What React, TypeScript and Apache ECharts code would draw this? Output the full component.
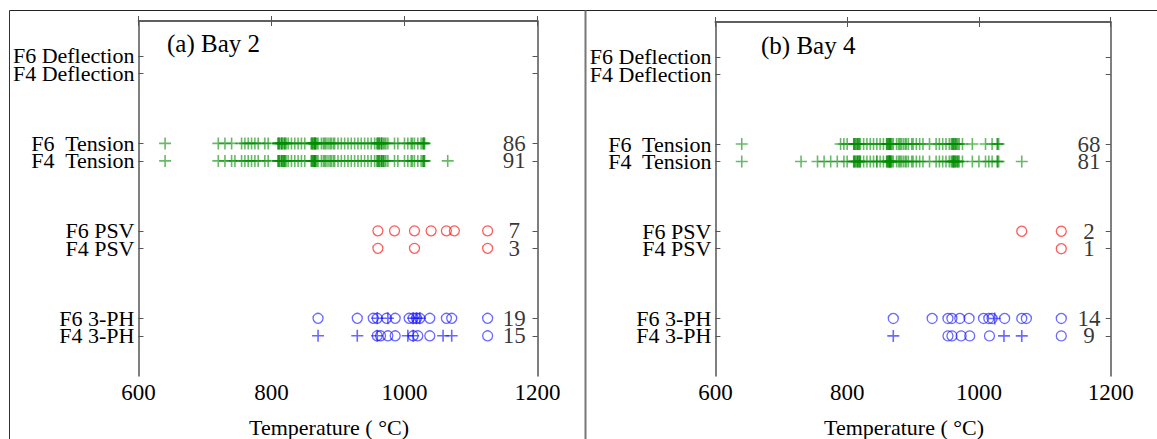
import React, { useEffect, useRef } from 'react';
import * as echarts from 'echarts';

// ---- categories / ticks ----
const rowNames = ['F6 Deflection', 'F4 Deflection', 'F6  Tension', 'F4  Tension', 'F6 PSV', 'F4 PSV', 'F6 3-PH', 'F4 3-PH'];
const rowSlots = [2, 3, 7, 8, 12, 13, 17, 18];
const xTicks = [600, 800, 1000, 1200];
const panelTitles = ['(a) Bay 2', '(b) Bay 4'];
const xName = 'Temperature ( \u00B0C)';

// ---- Bay 2 ----
const bay2F6Tension = [640,
  720, 730, 740,
  755, 760, 765, 770, 775, 780, 790, 795,
  810, 810, 812, 812, 815, 815, 816, 818, 820, 820, 822, 825,
  830, 835, 840, 845, 850,
  860, 860, 862, 862, 864, 865, 865, 866, 866, 868, 870,
  875, 878, 880, 882, 885, 888, 890, 893, 895, 900,
  905, 910, 915, 920, 925, 930, 935, 940, 945, 950,
  955, 958, 960, 960, 962, 962, 965, 965, 966, 968, 970, 972, 975,
  985, 990, 1000, 1005, 1010, 1012, 1015, 1020, 1025, 1028, 1028, 1030, 1030];
const bay2F4Tension = [640,
  720, 730, 740, 745,
  755, 760, 765, 770, 775, 780, 790, 795,
  810, 810, 812, 812, 815, 815, 816, 818, 818, 820, 820, 822, 825,
  830, 835, 840, 845, 850,
  860, 860, 862, 862, 864, 864, 865, 865, 866, 866, 868, 870,
  875, 878, 880, 882, 885, 888, 890, 893, 895, 900,
  905, 910, 915, 920, 925, 930, 935, 940, 945, 950,
  955, 958, 960, 960, 962, 962, 965, 965, 966, 968, 968, 970, 972, 975,
  985, 990, 1000, 1005, 1010, 1012, 1015, 1020, 1025, 1028, 1028, 1030, 1030,
  1065];
const bay2F6PSV = [960, 985, 1015, 1040, 1063, 1075, 1125];
const bay2F4PSV = [960, 1015, 1125];
const bay2F63PHCircle = [870, 929, 953, 959, 973, 986, 1007, 1013, 1018, 1023, 1038, 1063, 1071, 1125];
const bay2F63PHPlus = [959, 975, 1013, 1018, 1023];
const bay2F43PHCircle = [959, 964, 975, 986, 1013, 1020, 1038, 1125];
const bay2F43PHPlus = [870, 929, 959, 1005, 1013, 1058, 1071];

// ---- Bay 4 ----
const bay4F6Tension = [640,
  790, 795, 800,
  810, 810, 812, 812, 815, 815, 816, 818, 818, 820,
  825, 830, 835, 840, 845, 850, 855,
  860, 860, 862, 862, 864, 864, 865, 866, 866, 868, 870,
  875, 878, 880, 882, 885, 888, 890, 893, 898, 900,
  905, 910, 915, 925, 935, 940, 945, 950, 955,
  958, 960, 960, 962, 962, 964, 965, 966, 968, 970,
  975, 990, 1010, 1020, 1028, 1028, 1030];
const bay4F4Tension = [640, 730, 755, 765, 775, 785, 795, 800,
  810, 810, 812, 812, 815, 815, 816, 818, 818, 820, 820,
  825, 830, 835, 840, 845, 845, 850, 855,
  860, 860, 862, 862, 864, 864, 864, 865, 866, 866, 866, 868, 870,
  875, 878, 880, 882, 885, 888, 890, 893, 898, 900,
  905, 910, 915, 925, 935, 940, 945, 950, 955,
  958, 960, 960, 962, 962, 962, 964, 965, 966, 968, 968, 970,
  975, 990, 1000, 1010, 1015, 1020, 1028, 1028, 1030,
  1065];
const bay4F6PSV = [1065, 1125];
const bay4F4PSV = [1125];
const bay4F63PHCircle = [870, 929, 953, 959, 971, 985, 1007, 1015, 1020, 1039, 1065, 1072, 1125];
const bay4F63PHPlus = [1024];
const bay4F43PHCircle = [953, 959, 973, 986, 1016, 1125];
const bay4F43PHPlus = [870, 1038, 1065];

const FONT = "'Liberation Serif', 'Times New Roman', serif";
const GREEN = 'rgba(0,140,0,0.75)';
const RED = 'rgba(255,0,0,0.8)';
const BLUE = 'rgba(20,20,255,0.8)';
const AXIS = '#555';
const PLUS = 'path://M6 0L6 12M0 6L12 6';

type Panel = {
  grid: any;
  f6Tension: number[]; f4Tension: number[];
  f6PSV: number[]; f4PSV: number[];
  f63c: number[]; f63p: number[]; f43c: number[]; f43p: number[];
  countX: number;
};

const panels: Panel[] = [
  {
    grid: { left: 138.5, top: 21, width: 399, height: 355 },
    f6Tension: bay2F6Tension, f4Tension: bay2F4Tension,
    f6PSV: bay2F6PSV, f4PSV: bay2F4PSV,
    f63c: bay2F63PHCircle, f63p: bay2F63PHPlus, f43c: bay2F43PHCircle, f43p: bay2F43PHPlus,
    countX: 1165,
  },
  {
    grid: { left: 715.4, top: 22, width: 395.3, height: 354 },
    f6Tension: bay4F6Tension, f4Tension: bay4F4Tension,
    f6PSV: bay4F6PSV, f4PSV: bay4F4PSV,
    f63c: bay4F63PHCircle, f63p: bay4F63PHPlus, f43c: bay4F43PHCircle, f43p: bay4F43PHPlus,
    countX: 1167,
  },
];

function nameAt(v: number) {
  const i = rowSlots.indexOf(Math.round(v));
  return i >= 0 ? rowNames[i] : '';
}

// F6 rows are the even entries, F4 rows the odd ones
const f6Slots = rowSlots.filter((_, i) => i % 2 === 0);
const f4Slots = rowSlots.filter((_, i) => i % 2 === 1);

function buildOption() {
  const grid: any[] = [];
  const xAxis: any[] = [];
  const yAxis: any[] = [];
  const series: any[] = [];
  const lineStyle = { color: AXIS, width: 1.5 };

  panels.forEach((p, i) => {
    grid.push({ ...p.grid, containLabel: false, outerBoundsMode: 'none' });
    const xBase = {
      type: 'value', gridIndex: i, min: xTicks[0], max: xTicks[xTicks.length - 1], interval: 200,
      axisLine: { show: true, lineStyle },
      axisTick: { show: true, inside: true, length: 5, lineStyle: { color: AXIS, width: 1 } },
      splitLine: { show: false },
    };
    xAxis.push({
      ...xBase, position: 'bottom',
      axisLabel: {
        show: true, fontSize: 23, color: '#000', fontFamily: FONT, margin: 5,
        showMinLabel: true, showMaxLabel: true, formatter: (v: number) => String(v),
      },
      name: xName, nameLocation: 'middle', nameGap: 40,
      nameTextStyle: { fontSize: 22, color: '#000', fontFamily: FONT, padding: [0, 18, 0, 0] },
    });
    xAxis.push({ ...xBase, position: 'top', axisLabel: { show: false } });

    const yBase = {
      type: 'value', gridIndex: i, min: 0, max: 20.3, inverse: true,
      splitLine: { show: false },
    };
    const yLabel = (slots: number[]) => ({
      show: true, customValues: slots, formatter: (v: number) => nameAt(v),
      fontSize: 22, color: '#000', fontFamily: FONT, margin: 4,
      showMinLabel: true, showMaxLabel: true,
    });
    // left axis: line + all ticks + F6 labels
    yAxis.push({
      ...yBase, position: 'left',
      axisLine: { show: true, lineStyle },
      axisTick: { show: true, inside: true, length: 5, customValues: rowSlots, lineStyle: { color: AXIS, width: 1 } },
      axisLabel: yLabel(f6Slots),
    });
    // left axis twin: F4 labels only
    yAxis.push({
      ...yBase, position: 'left',
      axisLine: { show: false }, axisTick: { show: false },
      axisLabel: yLabel(f4Slots),
    });
    // right axis: line + inward ticks
    yAxis.push({
      ...yBase, position: 'right',
      axisLine: { show: true, lineStyle },
      axisTick: { show: true, inside: true, length: 5, customValues: rowSlots, lineStyle: { color: AXIS, width: 1 } },
      axisLabel: { show: false },
    });

    const xi = 2 * i;
    const yi = 3 * i;
    const mk = (vals: number[], slot: number) => vals.map((t) => [t, slot]);
    const plus = (name: string, vals: number[], slot: number, color: string) => ({
      type: 'scatter', name, xAxisIndex: xi, yAxisIndex: yi, data: mk(vals, slot),
      symbol: PLUS, symbolSize: 12,
      itemStyle: { color: 'transparent', borderColor: color, borderWidth: 1.6 },
      silent: true,
    });
    const circ = (name: string, vals: number[], slot: number, color: string) => ({
      type: 'scatter', name, xAxisIndex: xi, yAxisIndex: yi, data: mk(vals, slot),
      symbol: 'circle', symbolSize: 10,
      itemStyle: { color: 'transparent', borderColor: color, borderWidth: 1.3 },
      silent: true,
    });
    series.push(plus('F6 Tension', p.f6Tension, rowSlots[2], GREEN));
    series.push(plus('F4 Tension', p.f4Tension, rowSlots[3], GREEN));
    series.push(circ('F6 PSV', p.f6PSV, rowSlots[4], RED));
    series.push(circ('F4 PSV', p.f4PSV, rowSlots[5], RED));
    series.push(circ('F6 3-PH', p.f63c, rowSlots[6], BLUE));
    series.push(plus('F6 3-PH +', p.f63p, rowSlots[6], BLUE));
    series.push(circ('F4 3-PH', p.f43c, rowSlots[7], BLUE));
    series.push(plus('F4 3-PH +', p.f43p, rowSlots[7], BLUE));

    const counts = [
      [p.countX, rowSlots[2], p.f6Tension.length],
      [p.countX, rowSlots[3], p.f4Tension.length],
      [p.countX, rowSlots[4], p.f6PSV.length],
      [p.countX, rowSlots[5], p.f4PSV.length],
      [p.countX, rowSlots[6], p.f63c.length + p.f63p.length],
      [p.countX, rowSlots[7], p.f43c.length + p.f43p.length],
    ];
    series.push({
      type: 'scatter', name: 'counts', xAxisIndex: xi, yAxisIndex: yi, data: counts,
      symbol: 'circle', symbolSize: 1, itemStyle: { color: 'transparent' }, silent: true,
      labelLayout: { hideOverlap: false },
      label: {
        show: true, position: 'inside', offset: [0, -2],
        formatter: (d: any) => String(d.value[2]),
        fontSize: 23, lineHeight: 14, color: '#000', fontFamily: FONT,
      },
    });
  });

  return {
    animation: false,
    backgroundColor: '#fff',
    title: [
      { text: panelTitles[0], left: 167, top: 31, textStyle: { fontSize: 25, fontWeight: 'normal', color: '#000', fontFamily: FONT }, padding: 0 },
      { text: panelTitles[1], left: 761, top: 33, textStyle: { fontSize: 25, fontWeight: 'normal', color: '#000', fontFamily: FONT }, padding: 0 },
    ],
    grid, xAxis, yAxis, series,
    graphic: [
      { type: 'line', shape: { x1: 9.5, y1: 10.5, x2: 1157, y2: 10.5 }, style: { stroke: '#222', lineWidth: 1 }, silent: true },
      { type: 'line', shape: { x1: 9.5, y1: 10.5, x2: 9.5, y2: 439 }, style: { stroke: '#333', lineWidth: 1 }, silent: true },
      { type: 'line', shape: { x1: 585.5, y1: 10.5, x2: 585.5, y2: 439 }, style: { stroke: '#777', lineWidth: 2 }, silent: true },
    ],
  };
}

export default function App() {
  const ref = useRef<HTMLDivElement>(null);
  useEffect(() => {
    if (!ref.current) return;
    const chart = echarts.init(ref.current, undefined, { renderer: 'svg' });
    chart.setOption(buildOption() as any);
    return () => chart.dispose();
  }, []);
  return <div ref={ref} style={{ position: 'fixed', left: 0, top: 0, width: 1157, height: 439 }} />;
}
